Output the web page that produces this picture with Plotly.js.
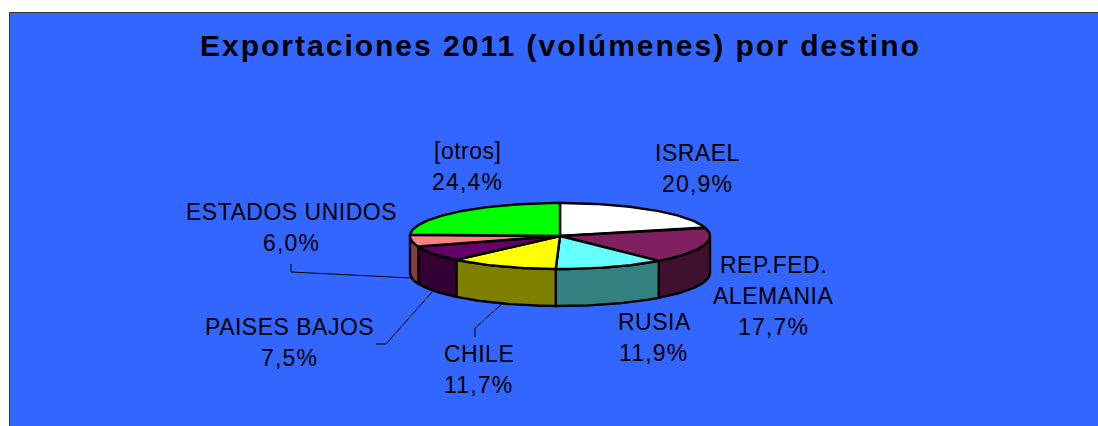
<!DOCTYPE html>
<html><head><meta charset="utf-8">
<script src="https://cdn.plot.ly/plotly-3.0.1.min.js"></script>
<style>html,body{margin:0;padding:0;background:#fff}#c{width:1098px;height:426px}</style>
</head><body><div id="c"></div>
<script>
const categories = ['ISRAEL','REP.FED. ALEMANIA','RUSIA','CHILE','PAISES BAJOS','ESTADOS UNIDOS','[otros]'];
const shares = [20.9,17.7,11.9,11.7,7.5,6.0,24.4];
const topColors = ['#FFFFFF','#802060','#66FFFF','#FFFF00','#660066','#FF8080','#00FF00'];
const sideColors = ['#808080','#401030','#338080','#808000','#330033','#804040','#008000'];
const labelCentres = [[697,153],[773,265],[654,322],[479,354],[289,327],[291,212],[467,151]];
const labelBreaks = [[ 'ISRAEL'],['REP.FED.','ALEMANIA'],['RUSIA'],['CHILE'],['PAISES BAJOS'],['ESTADOS UNIDOS'],['[otros]']];
const leaders = [[[291,264],[291,272],[412,278]],[[376,344],[386,344],[433,291]],[[475,337],[475,328],[503,303]]];

const cx=560, cy=236, rx=150, ry=33, depth=37;
const total = shares.reduce((a,b)=>a+b,0);
const pt=(deg,dy=0)=>{const r=deg*Math.PI/180;return [cx+rx*Math.sin(r),cy-ry*Math.cos(r)+dy];};
const arc=(a,b,dy=0)=>{const n=Math.max(2,Math.ceil(Math.abs(b-a)));const o=[];for(let i=0;i<=n;i++)o.push(pt(a+(b-a)*i/n,dy));return o;};
const poly=(pts,color,name)=>({type:'scatter',mode:'lines',x:pts.map(p=>p[0]),y:pts.map(p=>p[1]),fill:'toself',fillcolor:color,
  line:{color:'#000',width:2.4},name,hoverinfo:'name',showlegend:false});
let acc=0; const spans=shares.map(v=>{const a=acc/total*360;acc+=v;return [a,acc/total*360];});
const traces=[];
spans.forEach(([a,b],i)=>{
  const s=Math.max(a,90), e=Math.min(b,270);
  if(e>s){traces.push(poly([...arc(s,e),...arc(e,s,depth),pt(s)],sideColors[i],categories[i]));}
});
spans.forEach(([a,b],i)=>{
  traces.push(poly([[cx,cy],...arc(a,b),[cx,cy]],topColors[i],categories[i]));
});
leaders.forEach(l=>traces.push({type:'scatter',mode:'lines',x:l.map(p=>p[0]),y:l.map(p=>p[1]),line:{color:'#000',width:1},hoverinfo:'skip',showlegend:false}));

const LH=31, annotations=[];
const spaced=(t,s)=>`<span style="letter-spacing:${s}px">${t}</span>`;
categories.forEach((c,i)=>{
  const names=labelBreaks[i], pct=shares[i].toFixed(1).replace('.',',')+'%';
  [...names,pct].forEach((t,k)=>annotations.push({x:labelCentres[i][0],y:labelCentres[i][1]+k*LH,xref:'x',yref:'y',text:spaced(t,k===names.length?1.2:0.5),showarrow:false,
    xanchor:'center',yanchor:'middle',font:{family:'"Liberation Sans",Arial,sans-serif',size:23,color:'#000'}}));
});
annotations.push({x:560.5,y:45,xref:'x',yref:'y',text:spaced('Exportaciones 2011 (volúmenes) por destino',2),showarrow:false,xanchor:'center',yanchor:'middle',
  font:{family:'"Liberation Sans",Arial,sans-serif',size:30,color:'#000',weight:700}});

Plotly.newPlot('c',traces,{
  width:1098,height:426,margin:{l:0,r:0,t:0,b:0},paper_bgcolor:'#fff',plot_bgcolor:'rgba(0,0,0,0)',
  xaxis:{range:[0,1098],visible:false,fixedrange:true},
  yaxis:{range:[426,0],visible:false,fixedrange:true},
  shapes:[{type:'rect',layer:'below',xref:'x',yref:'y',x0:9.5,x1:1110,y0:12.5,y1:440,fillcolor:'#3366FF',line:{color:'#333',width:1}}],
  annotations,showlegend:false
},{displayModeBar:false});
</script></body></html>
